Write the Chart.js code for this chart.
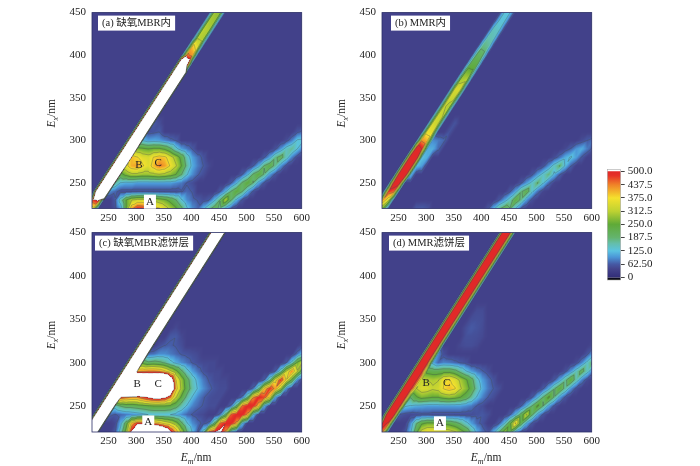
<!DOCTYPE html>
<html>
<head>
<meta charset="utf-8">
<script src="https://cdn.jsdelivr.net/npm/chart.js@4/dist/chart.umd.min.js"></script>
<style>
html, body { margin: 0; padding: 0; background: #fff; }
body { width: 700px; height: 466px; overflow: hidden; position: relative; }
canvas { position: absolute; }
</style>
</head>
<body>
<canvas id="panelA" width="280" height="225" style="left:40px;top:0"></canvas>
<canvas id="panelB" width="280" height="225" style="left:330px;top:0"></canvas>
<canvas id="panelC" width="280" height="246" style="left:40px;top:220px"></canvas>
<canvas id="panelD" width="280" height="246" style="left:330px;top:220px"></canvas>
<canvas id="colorBar" width="80" height="130" style="left:590px;top:160px"></canvas>
<script>
// grid of the fluorescence maps
const emGrid = [212,222,232,242,252,262,272,282,292,302,312,322,332,342,352,362,372,382,392,402,412,422,432,442,452,462,472,482,492,502,512,522,532,542,552,562,572,582,592,602];
const exGrid = [220,230,240,250,260,270,280,290,300,310,320,330,340,350,360,370,380,390,400,410,420,430,440,450];
const emTicks = [250,300,350,400,450,500,550,600];
const exTicks = [250,300,350,400,450];
const barTicks = [0,62.5,125,187.5,250,312.5,375,437.5,500];
const barLabels = ['0','62.50','125.0','187.5','250.0','312.5','375.0','437.5','500.0'];
const background = 35;
const levels = [62.5,125,187.5,250,312.5,375,437.5,500];

// colour of the bar: value, r, g, b
const colorStops = [
  [0,50,45,120],[40,68,68,140],[62.5,70,90,165],[95,75,150,215],[125,90,195,225],
  [160,100,190,170],[187.5,100,180,110],[250,95,170,55],[312.5,190,210,50],
  [375,245,225,45],[437.5,240,130,40],[480,230,50,40],[500,225,40,40]
];

// ridge values per excitation row (two grid points next to Em = Ex)
const ridgeA = [[300,350],[480,520],[1000,3000],[1000,3000],[1000,3000],[1000,3000],[1000,3000],[1000,3000],[1000,3000],[1000,3000],[1000,3000],[1000,3000],[1000,3000],[1000,3000],[1000,3000],[1000,3000],[1000,3000],[1000,600],[450,420],[400,340],[310,300],[310,300],[300,290],[290,280]];
const ridgeB = [[300,250],[420,330],[480,450],[560,520],[620,620],[620,620],[620,620],[560,500],[430,400],[360,350],[340,320],[330,310],[320,300],[330,320],[340,340],[300,310],[270,260],[230,230],[210,200],[180,170],[160,150],[150,140],[130,130],[130,125]];
const ridgeC = [[1200,3000],[1200,3000],[1200,3000],[1200,3000],[1200,3000],[1200,3000],[1200,3000],[1200,3000],[1200,3000],[1200,3000],[1200,3000],[1200,3000],[1200,3000],[1200,3000],[1200,3000],[1200,3000],[1200,3000],[1200,3000],[1200,3000],[1200,3000],[1200,3000],[1200,3000],[1200,3000],[1200,3000]];
const ridgeD = [[430,420],[560,460],[800,520],[800,520],[800,520],[800,520],[800,520],[800,520],[800,520],[800,520],[800,520],[800,520],[800,520],[800,520],[800,520],[800,520],[800,520],[800,520],[800,520],[800,520],[800,520],[800,520],[800,520],[800,520]];

// the rest of each map: [Ex, first Em, values...]
const peaksA = [
  [220,262,50,100,250,420,490,480,420,400,380,340,300,260,200,130,90,70],
  [220,422,115,170,215,170,110,60],
  [230,262,60,150,250,310,330,330,320,300,280,260,230,190,130,90,70,60,50],
  [230,432,60,115,190,300,195,110,55],
  [240,252,90,70,50,50,50,50,50,50,50,50,50,50,50,60,70,60],
  [240,452,60,115,190,240,190,110,55],
  [250,262,170,120,110,110,100,100,100,100,100,100,100,90,80,60,50],
  [250,472,60,115,195,240,185,105,55],
  [260,272,230,270,300,300,290,290,300,310,300,280,250,190,130,90,65,50],
  [260,492,60,115,195,235,180,100,55],
  [270,282,360,410,420,380,350,400,440,420,370,320,250,170,110,80,62,45],
  [270,512,60,110,190,225,170,95,50],
  [280,292,400,380,350,340,380,400,390,340,290,230,150,100,75,55],
  [280,532,58,105,175,210,150,85,45],
  [290,302,270,260,250,260,260,240,200,140,100,80,60],
  [290,552,52,95,145,170,125,80],
  [300,312,120,100,105,100,85,70,60],
  [300,572,48,82,130,135],
  [310,322,50,55,62],
  [310,592,55,70],
  [320,332,60,50]
];
const peaksB = [
  [220,282,60,62,55],
  [220,412,55,110,175,215,190,120,58],
  [230,432,58,100,150,230,175,95,50],
  [240,452,58,105,180,220,135,75,42],
  [250,472,55,98,140,190,130,72,40],
  [260,272,120],
  [260,492,55,98,140,180,115,65],
  [270,282,125,100],
  [270,512,52,92,145,190,120,65],
  [280,292,125,110],
  [280,532,48,75,110,130,100,58],
  [290,302,110,110,70],
  [290,552,45,65,95,110,80,55],
  [300,312,90,80,70],
  [300,582,48,62,72],
  [310,342,55],
  [320,352,55]
];
const peaksC = [
  [220,262,60,150,280,520,800,900,900,850,750,650,520,420,300,190,120,90],
  [220,412,60,150,450,498,520,420,120,55],
  [230,262,45,110,220,400,480,480,460,430,400,360,330,280,200,130,90,70,55],
  [230,432,70,200,450,498,498,420,120],
  [240,252,70,60,70,80,90,100,110,125,130,130,130,125,110,90,70,60,50,45],
  [240,452,70,200,460,498,498,420,120],
  [250,262,150,190,210,210,220,230,240,250,250,250,240,210,160,120,85,70,60,50,50],
  [250,472,70,200,450,498,490,400,110],
  [260,272,480,450,430,430,470,510,540,550,520,440,320,240,170,120,85,65,52,48,48],
  [260,492,70,190,430,490,470,370,105],
  [270,282,1500,1400,1200,1000,1000,1100,1100,1000,700,400,300,220,160,120,90,70,55,48,48],
  [270,512,70,180,390,480,420,300,90],
  [280,292,1500,900,800,750,800,850,800,600,380,290,210,150,110,80,60,48,45,45],
  [280,532,62,170,350,480,370,240,85],
  [290,302,420,430,440,440,430,390,330,270,200,140,100,75,55,45,45,45],
  [290,552,60,160,320,430,320,200],
  [300,312,230,200,210,200,180,140,110,90,75,60,50,45,45,45],
  [300,572,60,140,260,320],
  [310,322,70,75,90,90,80,70,60,55,50,45],
  [310,592,75,130],
  [320,342,50,62,65,60,50],
  [320,602,50],
  [330,362,60,62,45],
  [340,372,45]
];
const peaksD = [
  [220,262,55,120,230,340,370,370,360,350,340,320,280,240,170,110,75,55],
  [220,422,110,185,280,215,110,55],
  [230,272,90,180,240,260,260,250,240,230,210,180,140,100,70,55],
  [230,432,60,125,230,390,215,110,55],
  [240,252,60,50,45,50,55,55,50,50,50,50,50,50,50,50,55,60,50],
  [240,452,60,120,210,320,195,105,55],
  [250,262,130,120,110,105,100,100,100,100,100,100,100,90,80,60,50],
  [250,472,60,115,190,260,185,105,55],
  [260,272,190,240,270,260,250,250,270,280,270,250,220,170,120,85,62,50],
  [260,492,60,115,190,260,180,100,55],
  [270,282,310,345,340,320,330,380,400,380,320,280,230,160,110,80,62,50],
  [270,512,60,110,180,240,165,95,50],
  [280,292,320,310,300,310,370,380,350,300,260,210,140,100,75,55],
  [280,532,58,105,170,240,155,85,45],
  [290,302,230,220,220,230,230,210,170,130,100,80,65,50],
  [290,552,52,95,150,210,145,80],
  [300,312,110,70,85,80,70,60,52],
  [300,572,48,85,140,200],
  [310,322,90,50],
  [310,592,55,100],
  [320,362,45,50,50,45],
  [320,602,45],
  [330,372,52,52,50,45],
  [340,372,50,62,55,48],
  [350,382,50,52,50],
  [360,392,48,48]
];

const titles = ['(a) 缺氧MBR内','(b) MMR内','(c) 缺氧MBR滤饼层','(d) MMR滤饼层'];
const serif = '"Liberation Serif","Noto Sans CJK SC",serif';
const textColor = '#222';

// lookup table, one colour per unit of value
const lut = [];
for (let v = 0; v <= 500; v++) {
  let k = 0;
  while (k < colorStops.length - 2 && v > colorStops[k + 1][0]) k++;
  const a = colorStops[k], b = colorStops[k + 1];
  const f = Math.max(0, Math.min(1, (v - a[0]) / (b[0] - a[0])));
  lut.push(`rgb(${[1,2,3].map(c => Math.round(a[c] + (b[c] - a[c]) * f)).join(',')})`);
}
const colorOf = v => v > 500 ? '#fff' : lut[Math.max(0, Math.round(v))];

function buildGrid(ridge, peaks) {
  const grid = exGrid.map(() => emGrid.map(() => background));
  ridge.forEach((pair, row) => {
    grid[row][row] = pair[0];
    grid[row][row + 1] = pair[1];
  });
  peaks.forEach(seg => {
    const row = exGrid.indexOf(seg[0]);
    const col = emGrid.indexOf(seg[1]);
    seg.slice(2).forEach((v, n) => { grid[row][col + n] = v; });
  });
  return grid;
}

// each grid cell is split in two triangles along its rising diagonal
function valueAt(grid, em, ex) {
  const fx = Math.min(emGrid.length - 1.001, (em - emGrid[0]) / 10);
  const fy = Math.max(0, Math.min(exGrid.length - 1.001, (ex - exGrid[0]) / 10));
  const i = Math.floor(fx), j = Math.floor(fy), s = fx - i, t = fy - j;
  const bl = grid[j][i], br = grid[j][i + 1], tl = grid[j + 1][i], tr = grid[j + 1][i + 1];
  if (t <= s) return bl + s * (br - bl) + t * (tr - br);
  return bl + t * (tl - bl) + s * (tr - tl);
}

function drawContours(ctx, grid, xs, ys) {
  ctx.strokeStyle = 'rgba(70,80,80,0.6)';
  ctx.lineWidth = 0.6;
  const cross = (p, q, lv) => {
    const f = (lv - p[2]) / (q[2] - p[2]);
    return [xs.getPixelForValue(p[0] + (q[0] - p[0]) * f), ys.getPixelForValue(p[1] + (q[1] - p[1]) * f)];
  };
  levels.forEach(lv => {
    ctx.beginPath();
    for (let j = 0; j < exGrid.length - 1; j++) {
      for (let i = 0; i < emGrid.length - 1; i++) {
        const bl = [emGrid[i], exGrid[j], grid[j][i]];
        const br = [emGrid[i + 1], exGrid[j], grid[j][i + 1]];
        const tl = [emGrid[i], exGrid[j + 1], grid[j + 1][i]];
        const tr = [emGrid[i + 1], exGrid[j + 1], grid[j + 1][i + 1]];
        [[bl, br, tr], [bl, tr, tl]].forEach(tri => {
          const pts = [];
          for (let k = 0; k < 3; k++) {
            const p = tri[k], q = tri[(k + 1) % 3];
            if ((p[2] < lv) !== (q[2] < lv)) pts.push(cross(p, q, lv));
          }
          if (pts.length === 2) {
            ctx.moveTo(pts[0][0], pts[0][1]);
            ctx.lineTo(pts[1][0], pts[1][1]);
          }
        });
      }
    }
    ctx.stroke();
  });
}

// E + subscript + /nm, drawn from its left end
function axisName(ctx, x, y, sub) {
  ctx.textAlign = 'left';
  ctx.textBaseline = 'alphabetic';
  ctx.fillStyle = textColor;
  ctx.font = 'italic 11.5px ' + serif;
  ctx.fillText('E', x, y);
  let w = ctx.measureText('E').width;
  ctx.font = 'italic 8px ' + serif;
  ctx.fillText(sub, x + w, y + 2.5);
  w += ctx.measureText(sub).width;
  ctx.font = '11.5px ' + serif;
  ctx.fillText('/nm', x + w, y);
}

function makePanel(id, grid, cfg) {
  const points = [];
  exGrid.forEach((ex, j) => emGrid.forEach((em, i) => points.push({ x: em, y: ex, v: grid[j][i] })));
  new Chart(document.getElementById(id), {
    type: 'scatter',
    data: { datasets: [{ data: points, pointRadius: 0 }] },
    options: {
      responsive: false,
      animation: false,
      layout: { padding: { top: cfg.top, right: 18.3 } },
      plugins: { legend: { display: false }, tooltip: { enabled: false } },
      scales: {
        x: {
          type: 'linear', min: 220, max: 600,
          afterBuildTicks: s => { s.ticks = emTicks.map(value => ({ value })); },
          afterFit: s => { s.height = cfg.axisH; },
          grid: { display: false, drawTicks: false },
          border: { display: false },
          ticks: { color: textColor, padding: 3, maxRotation: 0, font: { family: serif, size: 11 } }
        },
        y: {
          type: 'linear', min: 220, max: 450,
          afterBuildTicks: s => { s.ticks = exTicks.map(value => ({ value })); },
          afterFit: s => { s.width = 52; },
          grid: { display: false, drawTicks: false },
          border: { display: false },
          ticks: { color: textColor, padding: 6, font: { family: serif, size: 11 } }
        }
      }
    },
    plugins: [{
      id: 'eemMap',
      beforeDatasetsDraw(chart) {
        const { ctx, chartArea: a, scales: { x, y } } = chart;
        ctx.save();
        ctx.beginPath();
        ctx.rect(a.left, a.top, a.width, a.height);
        ctx.clip();
        for (let py = Math.floor(a.top); py < a.bottom; py++) {
          const ex = y.getValueForPixel(py + 0.5);
          for (let px = Math.floor(a.left); px < a.right; px++) {
            const v = valueAt(grid, x.getValueForPixel(px + 0.5), ex);
            ctx.fillStyle = colorOf(Math.min(v, cfg.ceiling));
            ctx.fillRect(px, py, 1, 1);
          }
        }
        drawContours(ctx, grid, x, y);
        ctx.restore();
        ctx.strokeStyle = '#2b2f66';
        ctx.lineWidth = 0.8;
        ctx.strokeRect(a.left, a.top, a.width, a.height);
      },
      afterDraw(chart) {
        const { ctx, chartArea: a, scales: { x, y } } = chart;
        ctx.save();
        // panel title in its white box
        ctx.font = '10.5px ' + serif;
        const w = ctx.measureText(cfg.title).width;
        ctx.fillStyle = '#fff';
        ctx.fillRect(a.left + cfg.boxX, a.top + 3, w + 8, 15);
        ctx.fillStyle = textColor;
        ctx.textAlign = 'left';
        ctx.textBaseline = 'middle';
        ctx.fillText(cfg.title, a.left + cfg.boxX + 4, a.top + 11);
        // peak letters
        ctx.font = '11px ' + serif;
        ctx.textAlign = 'center';
        cfg.peaks.forEach(p => {
          const px = x.getPixelForValue(p[1]), py = y.getPixelForValue(p[2]);
          if (p[0] === 'A') {
            ctx.fillStyle = '#fff';
            ctx.fillRect(px - 6, py - 7, 12, 14);
          }
          ctx.fillStyle = textColor;
          ctx.fillText(p[0], px, py);
        });
        // axis names
        if (cfg.showEm) axisName(ctx, (a.left + a.right) / 2 - 16, a.bottom + 29, 'm');
        ctx.translate(a.left - 37, (a.top + a.bottom) / 2 + 17);
        ctx.rotate(-Math.PI / 2);
        axisName(ctx, 0, 0, 'x');
        ctx.restore();
      }
    }]
  });
}

makePanel('panelA', buildGrid(ridgeA, peaksA), { title: titles[0], top: 8.5, axisH: 16.5, boxX: 6, ceiling: Infinity, showEm: false, peaks: [['A',325,228],['B',305,271],['C',340,273]] });
makePanel('panelB', buildGrid(ridgeB, peaksB), { title: titles[1], top: 8.5, axisH: 16.5, boxX: 9, ceiling: 499, showEm: false, peaks: [] });
makePanel('panelC', buildGrid(ridgeC, peaksC), { title: titles[2], top: 11.7, axisH: 34, boxX: 3, ceiling: Infinity, showEm: true, peaks: [['A',322,231],['B',302,275],['C',340,275]] });
makePanel('panelD', buildGrid(ridgeD, peaksD), { title: titles[3], top: 11.7, axisH: 34, boxX: 7, ceiling: 499, showEm: true, peaks: [['A',325,230],['B',300,276],['C',337,276]] });

// colour bar
new Chart(document.getElementById('colorBar'), {
  type: 'bar',
  data: {
    labels: [''],
    datasets: [
      {
        data: [[0, 500]],
        backgroundColor: ctx => {
          const chart = ctx.chart;
          if (!chart.chartArea) return '#888';
          const y = chart.scales.y;
          const g = chart.ctx.createLinearGradient(0, y.getPixelForValue(0), 0, y.getPixelForValue(500));
          colorStops.forEach(c => g.addColorStop(c[0] / 500, `rgb(${c[1]},${c[2]},${c[3]})`));
          return g;
        }
      },
      { data: [[500, 509]], backgroundColor: '#fff' },
      { data: [[-3, 0]], backgroundColor: 'rgb(50,45,120)' },
      { data: [[-13, -3]], backgroundColor: '#000' }
    ]
  },
  options: {
    responsive: false,
    animation: false,
    grouped: false,
    barPercentage: 1,
    categoryPercentage: 1,
    layout: { padding: { left: 17.3, top: 9, bottom: 10 } },
    plugins: { legend: { display: false }, tooltip: { enabled: false } },
    scales: {
      x: { display: false },
      y: {
        position: 'right', min: -13, max: 509,
        afterBuildTicks: s => { s.ticks = barTicks.map(value => ({ value })); },
        afterFit: s => { s.width = 49.3; },
        grid: { drawOnChartArea: false, color: '#444', tickLength: 4 },
        border: { display: false },
        ticks: {
          color: textColor, padding: 3, autoSkip: false,
          font: { family: serif, size: 11 },
          callback: v => barLabels[barTicks.indexOf(v)]
        }
      }
    }
  },
  plugins: [{
    id: 'barFrame',
    afterDraw(chart) {
      const { ctx, chartArea: a } = chart;
      ctx.strokeStyle = '#aaa';
      ctx.lineWidth = 0.6;
      ctx.strokeRect(a.left, a.top, a.width, a.height);
    }
  }]
});
</script>
</body>
</html>
